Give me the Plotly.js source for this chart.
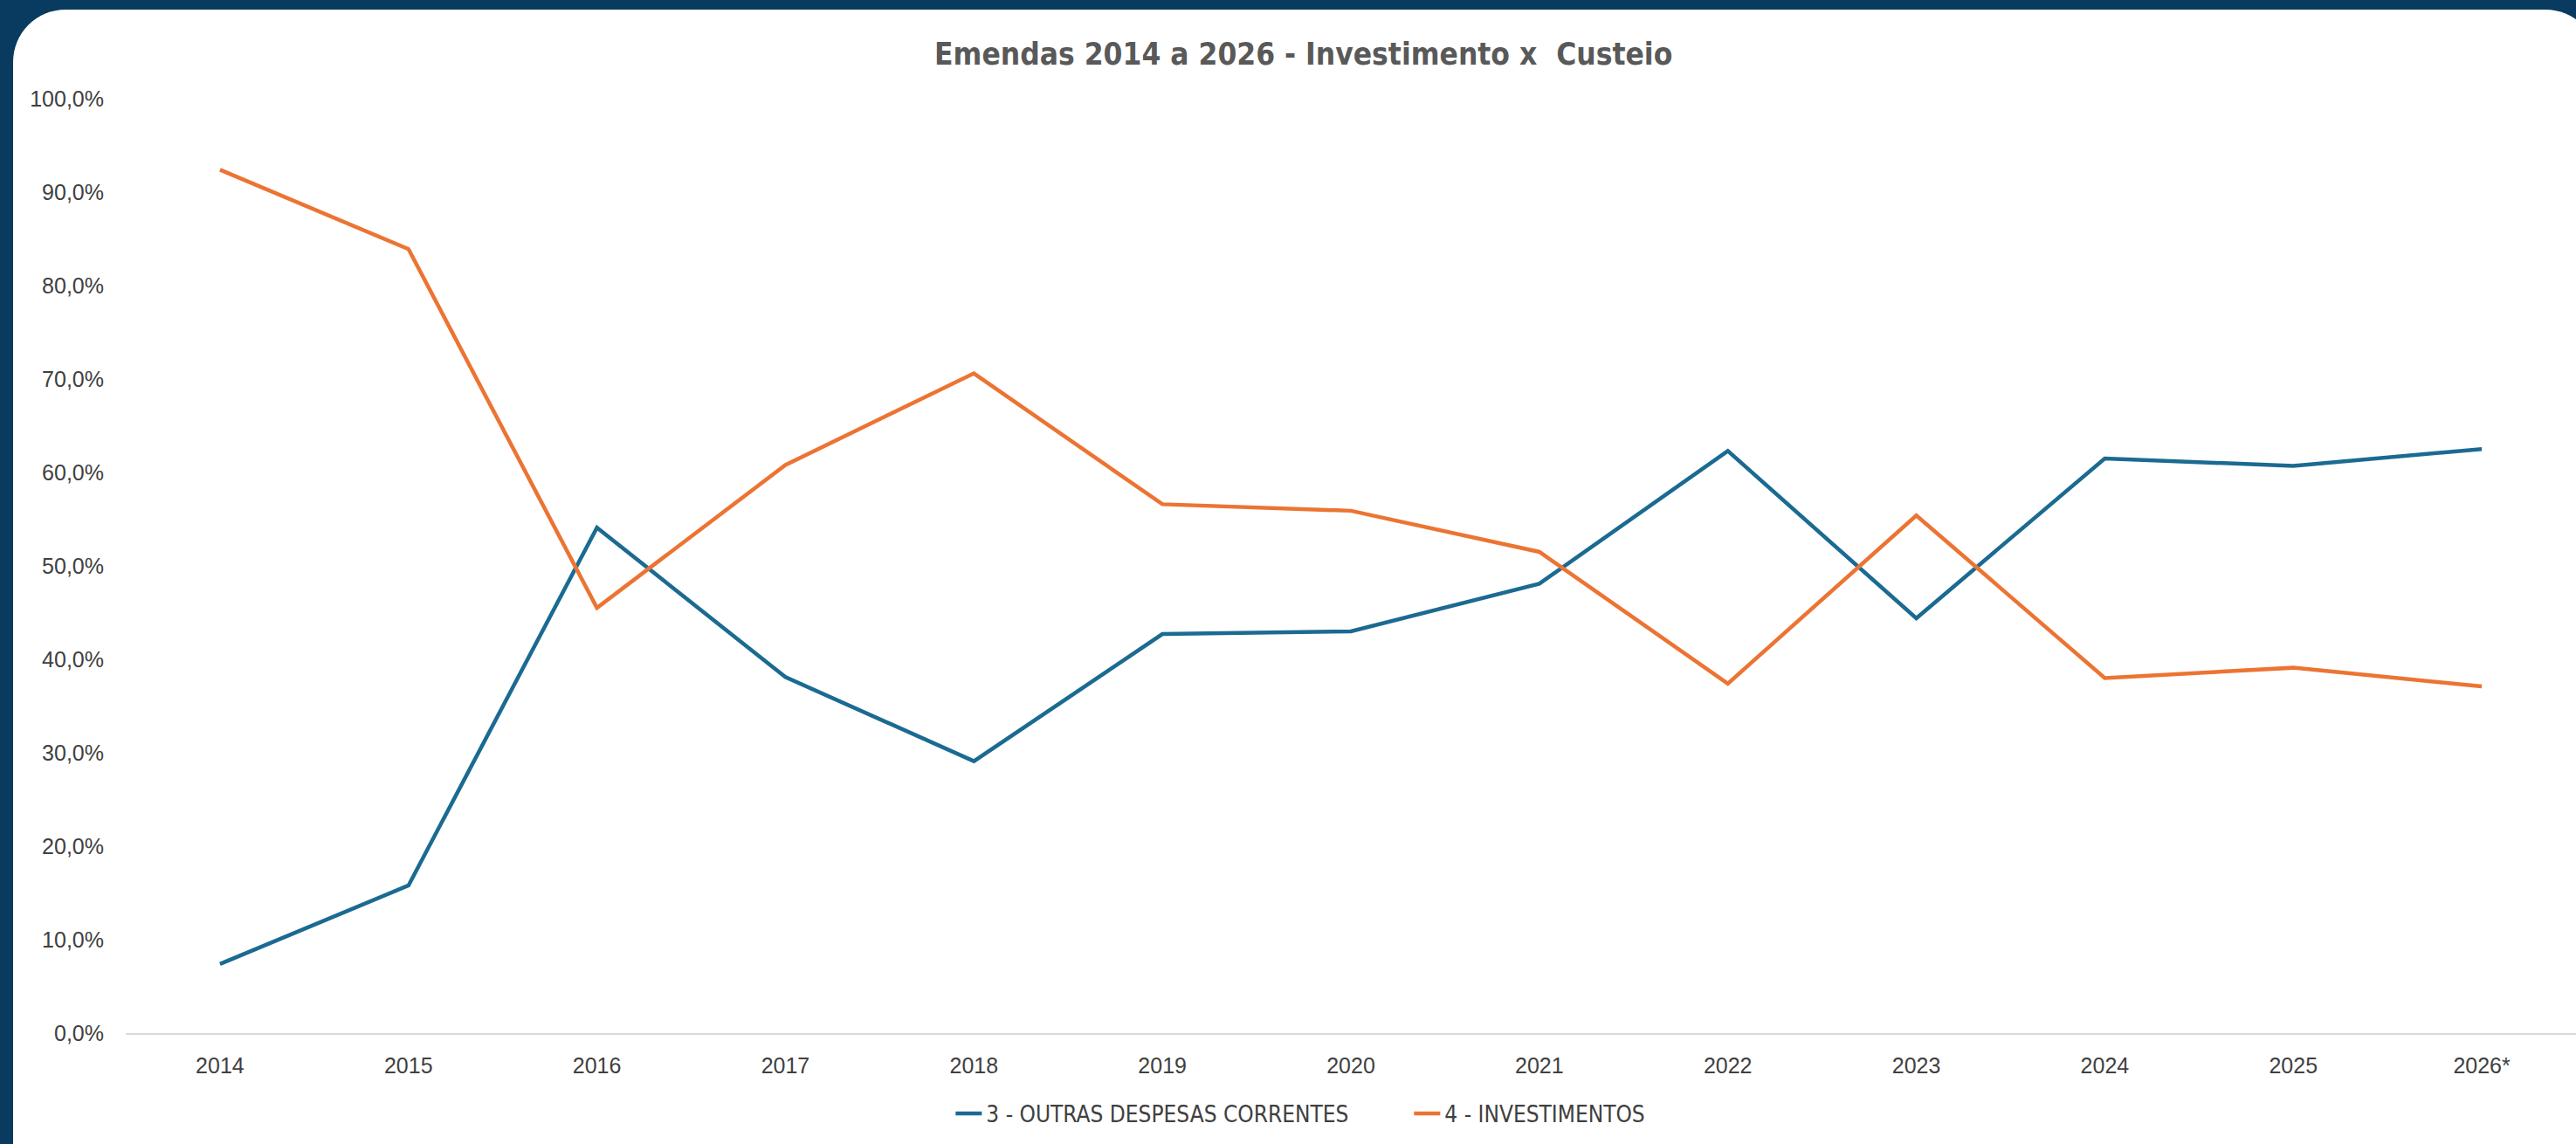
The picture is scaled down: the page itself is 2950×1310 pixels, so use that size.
<!DOCTYPE html>
<html>
<head>
<meta charset="utf-8">
<script src="https://cdn.plot.ly/plotly-3.0.1.min.js"></script>
<style>
  html, body { margin:0; padding:0; width:2950px; height:1310px; overflow:hidden; background:#083b5f; }
  #card { position:absolute; left:15px; top:11px; width:2960px; height:1360px; background:#ffffff; border-radius:60px; }
  #chart { position:absolute; left:0; top:0; width:2950px; height:1310px; }
</style>
</head>
<body>
<div id="card"></div>
<div id="chart"></div>
<script>
const years = ["2014","2015","2016","2017","2018","2019","2020","2021","2022","2023","2024","2025","2026*"];
const custeio = [0.074, 0.158, 0.541, 0.381, 0.291, 0.427, 0.430, 0.481, 0.623, 0.444, 0.615, 0.607, 0.625];
const investimento = [0.924, 0.839, 0.455, 0.608, 0.706, 0.566, 0.559, 0.515, 0.374, 0.554, 0.380, 0.391, 0.371];
const seriesNames = ["3 - OUTRAS DESPESAS CORRENTES", "4 - INVESTIMENTOS"];
const yTicks = [0,0.1,0.2,0.3,0.4,0.5,0.6,0.7,0.8,0.9,1.0];

const narrow = '"Liberation Sans Narrow", "DejaVu Sans Condensed", "Roboto Condensed", sans-serif';
const regular = '"Liberation Sans", Arial, sans-serif';

const traces = [
  { x: years, y: custeio, name: seriesNames[0], type: 'scatter', mode: 'lines',
    line: { color: '#1b6a92', width: 4.5 } },
  { x: years, y: investimento, name: seriesNames[1], type: 'scatter', mode: 'lines',
    line: { color: '#ec7433', width: 4.5 } }
];

const layout = {
  width: 2950, height: 1310,
  paper_bgcolor: 'rgba(0,0,0,0)', plot_bgcolor: 'rgba(0,0,0,0)',
  margin: { l: 144, r: 0, t: 113, b: 127 },
  separators: ',.',
  showlegend: true,
  title: {
    text: 'Emendas 2014 a 2026 - Investimento x \u00a0Custeio',
    font: { family: narrow, size: 35, color: '#595959', weight: 'bold' },
    x: 0.506, xanchor: 'center', xref: 'container',
    y: 1 - 62/1310, yanchor: 'middle', yref: 'container'
  },
  xaxis: {
    type: 'category', range: [-0.5, 12.5],
    showgrid: false, zeroline: false,
    showline: true, linecolor: '#d9d9d9', linewidth: 2,
    ticks: '', ticklabelstandoff: 14,
    tickfont: { family: regular, size: 25, color: '#404040' }
  },
  yaxis: {
    range: [0, 1], tickvals: yTicks, tickformat: '.1%',
    showgrid: false, zeroline: false, showline: false,
    ticks: '', ticklabelstandoff: 24,
    tickfont: { family: regular, size: 25, color: '#404040' }
  },
  legend: {
    orientation: 'h', x: 0.524, xanchor: 'center', xref: 'paper',
    y: 1 - 1275/1310, yanchor: 'middle', yref: 'container',
    font: { family: narrow, size: 26, color: '#404040' },
    entrywidth: 480, entrywidthmode: 'pixels',
    bgcolor: 'rgba(0,0,0,0)'
  }
};

Plotly.newPlot('chart', traces, layout, { displayModeBar: false, staticPlot: true });
</script>
</body>
</html>
